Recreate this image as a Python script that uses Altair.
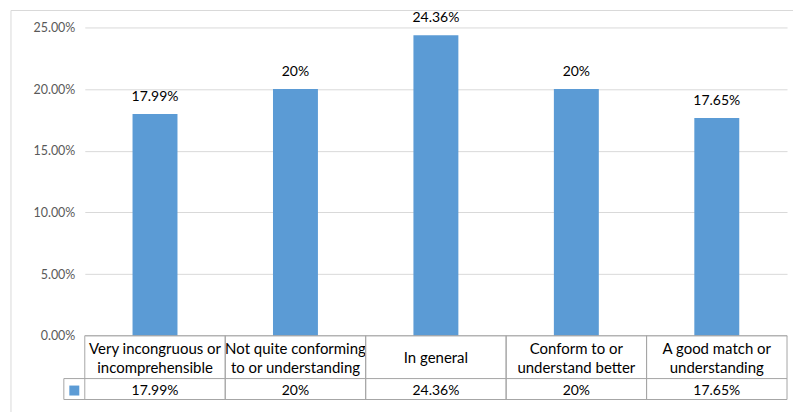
import altair as alt
import pandas as pd

# Survey answers, their shares and the two-line labels used in the data table
categories = [
    "Very incongruous or incomprehensible",
    "Not quite conforming to or understanding",
    "In general",
    "Conform to or understand better",
    "A good match or understanding",
]
table_labels = [
    "Very incongruous or\nincomprehensible",
    "Not quite conforming\nto or understanding",
    "In general",
    "Conform to or\nunderstand better",
    "A good match or\nunderstanding",
]
shares = [0.1799, 0.20, 0.2436, 0.20, 0.1765]
y_ticks = [0, 0.05, 0.10, 0.15, 0.20, 0.25]


def pct_label(v):
    s = f"{v * 100:.2f}".rstrip("0").rstrip(".")
    return s + "%"


df = pd.DataFrame({
    "category": categories,
    "table_label": table_labels,
    "share": shares,
    "label": [pct_label(v) for v in shares],
})
one = pd.DataFrame({"k": [0]})

PLOT_W = 704
PLOT_H = 309          # height of the value area (0% .. 25%)
ROW1 = 43             # bottom of the category row of the table
ROW2 = 64             # bottom of the value row of the table
BLUE = "#5b9bd5"
GRID = "#d9d9d9"
TABLE_LINE = "#a6a6a6"
FONT = "Lato"

x_scale = alt.Scale(paddingInner=0, paddingOuter=0)
x_band = alt.X("category:N", sort=categories, axis=None, scale=x_scale)
y_share = alt.Y(
    "share:Q",
    scale=alt.Scale(domain=[0, 0.25], range=[PLOT_H, 0], nice=False),
    axis=alt.Axis(
        values=y_ticks, format=".2%", title=None, domain=False, ticks=False,
        labelPadding=10, labelColor="#595959", labelFontSize=12.5, labelFont=FONT,
        gridColor=GRID, grid=True,
    ),
)

base = alt.Chart(df)

bars = base.mark_bar(color=BLUE, width=alt.RelativeBandSize(0.32)).encode(
    x=x_band, y=y_share
)
bar_labels = base.mark_text(
    baseline="middle", dy=-17, fontSize=14, font=FONT, color="#000000"
).encode(x=x_band, y=y_share, text="label:N")

# Data table under the plot: two-line and one-line category cells
table_cat2 = base.transform_filter(
    "indexof(datum.table_label, '\\n') >= 0"
).mark_text(
    lineBreak="\n", lineHeight=19, fontSize=15, font=FONT, color="#000000",
    baseline="middle",
).encode(x=x_band, y=alt.value(PLOT_H + 13), text="table_label:N")
table_cat1 = base.transform_filter(
    "indexof(datum.table_label, '\\n') < 0"
).mark_text(
    fontSize=15, font=FONT, color="#000000", baseline="middle",
).encode(x=x_band, y=alt.value(PLOT_H + 22.5), text="table_label:N")
table_val = base.mark_text(
    fontSize=14, font=FONT, color="#000000", baseline="middle"
).encode(x=x_band, y=alt.value(PLOT_H + 55), text="label:N")

col_left = base.mark_rule(color=TABLE_LINE).encode(
    x=alt.X("category:N", sort=categories, axis=None, scale=x_scale, bandPosition=0),
    y=alt.value(PLOT_H), y2=alt.value(PLOT_H + ROW2),
)
col_right = base.mark_rule(color=TABLE_LINE).encode(
    x=alt.X("category:N", sort=categories, axis=None, scale=x_scale, bandPosition=1),
    y=alt.value(PLOT_H), y2=alt.value(PLOT_H + ROW2),
)
row_top = alt.Chart(one).mark_rule(color=TABLE_LINE).encode(
    x=alt.value(0), x2=alt.value(PLOT_W), y=alt.value(PLOT_H)
)
row_mid = alt.Chart(one).mark_rule(color=TABLE_LINE).encode(
    x=alt.value(-21), x2=alt.value(PLOT_W), y=alt.value(PLOT_H + ROW1)
)
row_bot = alt.Chart(one).mark_rule(color=TABLE_LINE).encode(
    x=alt.value(-21), x2=alt.value(PLOT_W), y=alt.value(PLOT_H + ROW2)
)
key_left = alt.Chart(one).mark_rule(color=TABLE_LINE).encode(
    x=alt.value(-21), y=alt.value(PLOT_H + ROW1), y2=alt.value(PLOT_H + ROW2)
)
key_square = alt.Chart(one).mark_square(color=BLUE, size=100, opacity=1).encode(
    x=alt.value(-10.5), y=alt.value(PLOT_H + 55)
)

# Light chart-area frame (top and left edges)
frame_top = alt.Chart(one).mark_rule(color=GRID).encode(
    x=alt.value(-74), x2=alt.value(710), y=alt.value(-17)
)
frame_left = alt.Chart(one).mark_rule(color=GRID).encode(
    x=alt.value(-74), y=alt.value(-17), y2=alt.value(386)
)

chart = alt.layer(
    bars, bar_labels, table_cat2, table_cat1, table_val, col_left, col_right,
    row_top, row_mid, row_bot, key_left, key_square, frame_top, frame_left,
).properties(
    width=PLOT_W, height=PLOT_H + ROW2,
    padding={"left": 10, "top": 9, "right": 0, "bottom": 0},
    background="white",
).configure_view(strokeWidth=0)

chart.save("out.html", embed_options={"renderer": "svg", "actions": False})
